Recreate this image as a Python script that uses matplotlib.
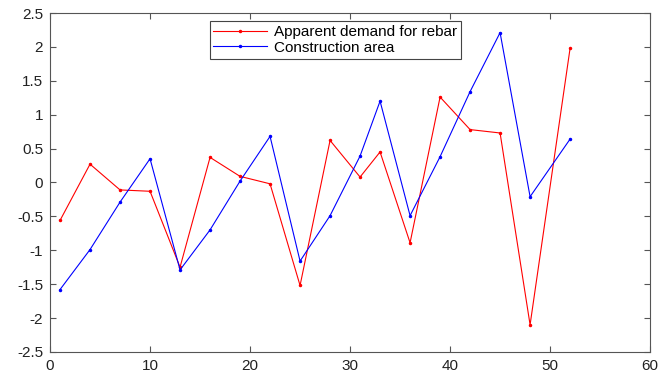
import numpy as np
import matplotlib.pyplot as plt

plt.rcParams['font.family'] = ['Liberation Sans', 'DejaVu Sans']

# sample positions and standardised series
x = [1, 4, 7, 10, 13, 16, 19, 22, 25, 28, 31, 33, 36, 39, 42, 45, 48, 52]
rebar = [-0.56, 0.27, -0.11, -0.13, -1.25, 0.37, 0.09, -0.02, -1.52, 0.62,
         0.08, 0.45, -0.89, 1.26, 0.78, 0.73, -2.10, 1.98]
area = [-1.58, -0.99, -0.29, 0.35, -1.29, -0.70, 0.02, 0.68, -1.16, -0.49,
        0.39, 1.20, -0.49, 0.38, 1.34, 2.21, -0.21, 0.64]

fig = plt.figure(figsize=(6.6, 3.78), dpi=100)
ax = fig.add_axes([0.0758, 0.069, 0.9092, 0.8966])

ax.plot(x, rebar, color='red', marker='.', markersize=3, linewidth=0.8,
        label='Apparent demand for rebar')
ax.plot(x, area, color='blue', marker='.', markersize=3, linewidth=0.8,
        label='Construction area')

ax.set_xlim(0, 60)
ax.set_ylim(-2.5, 2.5)
ax.set_xticks(np.arange(0, 61, 10))
ax.set_yticks(np.arange(-2.5, 2.51, 0.5))
ax.set_yticklabels(['-2.5', '-2', '-1.5', '-1', '-0.5', '0', '0.5', '1', '1.5', '2', '2.5'])

axis_col = '#555555'
for s in ax.spines.values():
    s.set_color(axis_col)
    s.set_linewidth(0.8)
ax.tick_params(direction='in', top=True, right=True, length=4, width=0.8,
               color=axis_col, labelsize=11, labelcolor='#222222')
ax.tick_params(axis='x', pad=5)
ax.tick_params(axis='y', pad=5)

leg = ax.legend(loc='upper center', bbox_to_anchor=(0.475, 0.975), fontsize=11,
                fancybox=False, framealpha=1, edgecolor='#444444',
                handlelength=3.5, handletextpad=0.45, borderpad=0.25,
                labelspacing=0.1, borderaxespad=0)
leg.get_frame().set_linewidth(0.8)

fig.savefig('out.png', dpi=100)
